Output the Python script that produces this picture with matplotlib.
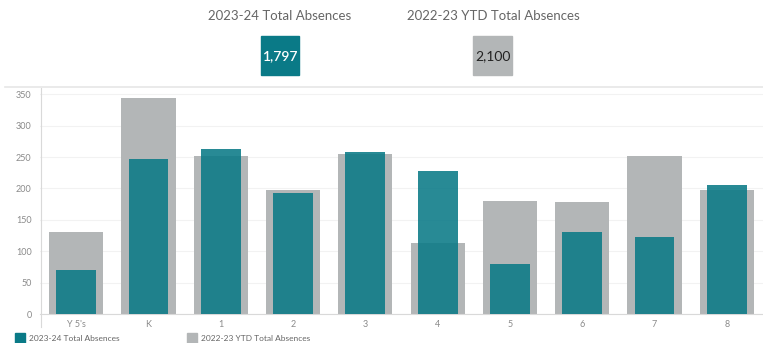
import matplotlib
matplotlib.use('Agg')
import matplotlib.pyplot as plt
from matplotlib.patches import Rectangle
from matplotlib.lines import Line2D

plt.rc('font', family='Lato')

TEAL = '#0a7a87'
GRAY = '#b3b6b7'
LABEL_COLOR = '#8a8a8a'

grades = ["Y 5's", 'K', '1', '2', '3', '4', '5', '6', '7', '8']
absences_2324 = [70, 247, 263, 192, 258, 227, 80, 131, 123, 206]
absences_2223_ytd = [130, 344, 251, 198, 255, 113, 180, 179, 252, 198]
yticks = [0, 50, 100, 150, 200, 250, 300, 350]

total_2324 = sum(absences_2324)
total_2223 = sum(absences_2223_ytd)

W, H = 763, 343
fig = plt.figure(figsize=(W / 100, H / 100), dpi=100)

# main bar axes, placed in pixel terms
left, right, top, bottom = 40, 763, 88, 314
ax = fig.add_axes([left / W, 1 - bottom / H, (right - left) / W, (bottom - top) / H])

xs = range(len(grades))
ax.bar(xs, absences_2223_ytd, width=0.75, color=GRAY, zorder=2)
ax.bar(xs, absences_2324, width=0.55, color=TEAL, alpha=0.88, zorder=3)

ax.set_xlim(-0.5, len(grades) - 0.5)
ax.set_ylim(0, 360)
ax.set_yticks(yticks)
ax.set_xticks(list(xs))
ax.set_xticklabels(grades)
ax.tick_params(axis='both', length=0, labelsize=6.5, labelcolor=LABEL_COLOR)
ax.tick_params(axis='y', pad=6)
ax.tick_params(axis='x', pad=4)
ax.grid(axis='y', color='#f2f2f2', linewidth=0.8, zorder=0)
for s in ['top', 'right']:
    ax.spines[s].set_visible(False)
ax.spines['left'].set_visible(False)
ax.spines['bottom'].set_color('#d9d9d9')
ax.spines['bottom'].set_linewidth(0.8)

# vertical axis rule, running down past the tick labels
fig.add_artist(Line2D([40.5 / W, 40.5 / W], [1 - 88 / H, 1 - 327 / H],
                      color='#d9d9d9', linewidth=0.8))
# separator line above chart
fig.add_artist(Line2D([5 / W, 1], [1 - 86.5 / H, 1 - 86.5 / H],
                      color='#e6e6e6', linewidth=1.2))

# KPI headers
fig.text(280 / W, 1 - 16 / H, '2023-24 Total Absences', ha='center', va='center',
         fontsize=9.5, color='#666666')
fig.text(493 / W, 1 - 16 / H, '2022-23 YTD Total Absences', ha='center', va='center',
         fontsize=9.5, color='#666666')

fig.add_artist(Rectangle((261 / W, 1 - 75 / H), 38 / W, 39 / H,
                         transform=fig.transFigure, color=TEAL))
fig.add_artist(Rectangle((473 / W, 1 - 75 / H), 39 / W, 39 / H,
                         transform=fig.transFigure, color=GRAY))
fig.text(280 / W, 1 - 56 / H, '{:,}'.format(total_2324), ha='center', va='center',
         fontsize=10, color='white', fontweight='semibold')
fig.text(492.5 / W, 1 - 56 / H, '{:,}'.format(total_2223), ha='center', va='center',
         fontsize=10, color='#222222')

# legend at bottom
fig.add_artist(Rectangle((15 / W, 0), 10 / W, 10 / H,
                         transform=fig.transFigure, color=TEAL))
fig.text(29 / W, 1 - 338.5 / H, '2023-24 Total Absences', ha='left', va='center',
         fontsize=6, color='#666666')
fig.add_artist(Rectangle((187 / W, 0), 10 / W, 10 / H,
                         transform=fig.transFigure, color=GRAY))
fig.text(201 / W, 1 - 338.5 / H, '2022-23 YTD Total Absences', ha='left', va='center',
         fontsize=6, color='#666666')

fig.savefig('out.png', dpi=100)
